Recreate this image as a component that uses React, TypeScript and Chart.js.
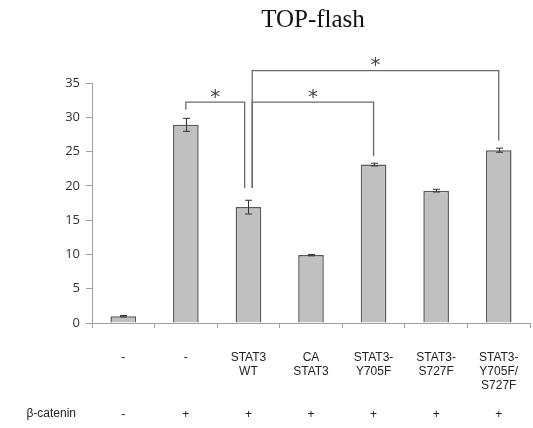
import React, { useEffect, useRef } from 'react';
import { Chart, registerables } from 'chart.js';

Chart.register(...registerables);

// ---- data ----
const categories: string[][] = [
  ['-'],
  ['-'],
  ['STAT3', 'WT'],
  ['CA', 'STAT3'],
  ['STAT3-', 'Y705F'],
  ['STAT3-', 'S727F'],
  ['STAT3-', 'Y705F/', 'S727F'],
];
const betaCateninLabel = 'β-catenin';
const betaCatenin = ['-', '+', '+', '+', '+', '+', '+'];
const values = [1.0, 28.9, 16.9, 9.9, 23.1, 19.3, 25.2];
const errors = [0.1, 0.95, 1.0, 0.1, 0.2, 0.2, 0.3];
const yMin = 0;
const yMax = 35;
const yStep = 5;
const titleText = 'TOP-flash';
// significance brackets: category indices, bracket level and leg end values
const bracketFrom = [1, 2, 2];
const bracketTo = [2, 4, 6];
const bracketLevel = [32.2, 32.2, 36.8];
const bracketLeftEnd = [31.1, 19.7, 19.7];
const bracketRightEnd = [19.7, 24.3, 26.6];
const bracketFromSide = [0, 1, 1];
const bracketToSide = [-1, 0, 0];
const bracketMark = ['*', '*', '*'];

const SIDE_OFFSET = 3.8;

const overlayPlugin = {
  id: 'overlay',
  afterDatasetsDraw(chart: any) {
    const { ctx } = chart;
    const x = chart.scales.x;
    const y = chart.scales.y;
    ctx.save();
    // error bars
    ctx.strokeStyle = '#333';
    ctx.lineWidth = 1;
    values.forEach((v, i) => {
      const px = Math.round(x.getPixelForValue(i)) + 0.5;
      const top = y.getPixelForValue(v + errors[i]);
      const bot = y.getPixelForValue(v - errors[i]);
      ctx.beginPath();
      ctx.moveTo(px, top);
      ctx.lineTo(px, bot);
      ctx.moveTo(px - 3.5, top);
      ctx.lineTo(px + 3.5, top);
      ctx.moveTo(px - 3.5, bot);
      ctx.lineTo(px + 3.5, bot);
      ctx.stroke();
    });
    ctx.restore();
  },
  afterDraw(chart: any) {
    const { ctx } = chart;
    const x = chart.scales.x;
    const y = chart.scales.y;
    const area = chart.chartArea;
    ctx.save();
    // title
    ctx.fillStyle = '#111';
    ctx.font = '25px "Liberation Serif", "Times New Roman", serif';
    ctx.textAlign = 'center';
    ctx.textBaseline = 'middle';
    ctx.fillText(titleText, (area.left + area.right) / 2 + 2, 20);

    // brackets
    ctx.strokeStyle = '#6a6a6a';
    ctx.lineWidth = 1.3;
    for (let b = 0; b < bracketFrom.length; b++) {
      const x1 = x.getPixelForValue(bracketFrom[b]) + bracketFromSide[b] * SIDE_OFFSET;
      const x2 = x.getPixelForValue(bracketTo[b]) + bracketToSide[b] * SIDE_OFFSET;
      const yl = y.getPixelForValue(bracketLevel[b]);
      const y1 = y.getPixelForValue(bracketLeftEnd[b]);
      const y2 = y.getPixelForValue(bracketRightEnd[b]);
      ctx.beginPath();
      ctx.moveTo(x1, y1);
      ctx.lineTo(x1, yl);
      ctx.lineTo(x2, yl);
      ctx.lineTo(x2, y2);
      ctx.stroke();
      // star
      ctx.fillStyle = '#444';
      ctx.font = '20px "DejaVu Sans", sans-serif';
      ctx.textAlign = 'center';
      ctx.textBaseline = 'alphabetic';
      const m = ctx.measureText(bracketMark[b]);
      const targetY = yl - 9;
      const base = targetY + (m.actualBoundingBoxAscent - m.actualBoundingBoxDescent) / 2;
      ctx.fillText(bracketMark[b], (x1 + x2) / 2, base);
    }

    // beta-catenin row
    ctx.fillStyle = '#222';
    ctx.font = '12px "Liberation Sans", Arial, sans-serif';
    ctx.textBaseline = 'middle';
    ctx.textAlign = 'right';
    ctx.fillText(betaCateninLabel, 76, 414);
    ctx.textAlign = 'center';
    betaCatenin.forEach((s, i) => {
      ctx.fillText(s, x.getPixelForValue(i), 415);
    });
    ctx.restore();
  },
};

export default function App() {
  const ref = useRef<HTMLCanvasElement | null>(null);
  useEffect(() => {
    if (!ref.current) return;
    const chart = new Chart(ref.current, {
      type: 'bar',
      data: {
        labels: categories as any,
        datasets: [
          {
            data: values,
            backgroundColor: '#c0c0c0',
            borderColor: '#5a5a5a',
            borderWidth: 1.5,
            barPercentage: 0.41,
            categoryPercentage: 1,
          },
        ],
      },
      options: {
        responsive: false,
        animation: false,
        layout: { padding: { top: 83, left: 0, right: 3, bottom: 0 } },
        plugins: {
          legend: { display: false },
          tooltip: { enabled: false },
          title: { display: false },
        },
        scales: {
          x: {
            afterFit: (scale: any) => {
              scale.height = 105;
              scale.paddingLeft = 0;
              scale.paddingRight = 0;
            },
            border: { color: '#a0a0a0', width: 1 },
            grid: {
              offset: true,
              drawOnChartArea: false,
              drawTicks: true,
              tickLength: 5,
              color: '#a0a0a0',
            },
            ticks: {
              color: '#222',
              padding: 23,
              maxRotation: 0,
              autoSkip: false,
              font: { family: '"Liberation Sans", Arial, sans-serif', size: 12, lineHeight: 1.15 },
            },
          },
          y: {
            min: yMin,
            max: yMax,
            afterFit: (scale: any) => {
              scale.width = 92;
            },
            border: { color: '#a0a0a0', width: 1 },
            grid: {
              drawOnChartArea: false,
              drawTicks: true,
              tickLength: 6,
              color: '#a0a0a0',
            },
            ticks: {
              stepSize: yStep,
              color: '#333',
              padding: 6,
              font: { family: '"Open Sans", sans-serif', size: 13 },
            },
          },
        },
      },
      plugins: [overlayPlugin],
    });
    return () => chart.destroy();
  }, []);

  return (
    <div style={{ position: 'absolute', left: 0, top: 0, width: 533, height: 428, overflow: 'hidden', background: '#fff' }}>
      <canvas ref={ref} width={533} height={428} style={{ display: 'block' }} />
    </div>
  );
}
